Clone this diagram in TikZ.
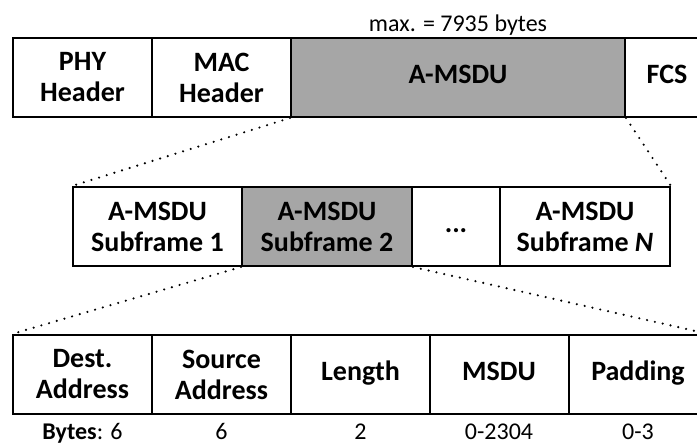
\documentclass[tikz,border=0pt]{standalone}
\usepackage{fontspec}
\setmainfont{Carlito}
\usepackage{tikz}
\definecolor{grisclair}{RGB}{166,166,166}

\begin{document}
\begin{tikzpicture}[x=1pt, y=1pt]
			\tikzset{case/.style={rectangle, draw=black, line width=2pt, minimum height=79pt, inner sep=0pt, align=center, font=\fontsize{28}{31}\selectfont\bfseries},
				ligne/.style={text height=20pt, text depth=7pt},
				grise/.style={fill=grisclair},
				pointille/.style={line width=2.4pt, line cap=round, dash pattern=on 0pt off 8pt},
				texte/.style={inner sep=0pt, anchor=base, font=\fontsize{24}{28}\selectfont}};

			\useasboundingbox (0,0) rectangle (697,445);

			\node[case, minimum width=139pt]               (phy)   at ( 82.5, 367.5) {PHY\\Header};
			\node[case, minimum width=139pt]               (mac)   at (221.5, 367.5) {MAC\\Header};
			\node[case, ligne, grise, minimum width=334pt] (amsdu) at (  458, 367.5) {A-MSDU};
			\node[case, ligne, minimum width=84pt]         (fcs)   at (  667, 367.5) {FCS};

			\node[case, minimum width=169pt]               (sub1)  at (157.5, 218.5) {A-MSDU\\Subframe 1};
			\node[case, grise, minimum width=170pt]        (sub2)  at (  327, 218.5) {A-MSDU\\Subframe 2};
			\node[case, ligne, minimum width=88pt]         (etc)   at (  456, 218.5) {...};
			\node[case, minimum width=170pt]               (subn)  at (  585, 218.5) {A-MSDU\\Subframe \textit{N}};

			\node[case, minimum width=139pt]               (dest)  at ( 82.5,  70.5) {Dest.\\Address};
			\node[case, minimum width=139pt]               (src)   at (221.5,  70.5) {Source\\Address};
			\node[case, ligne, minimum width=139pt]        (len)   at (360.5,  70.5) {Length};
			\node[case, ligne, minimum width=139pt]        (msdu)  at (  499,  70.5) {MSDU};
			\node[case, ligne, minimum width=139pt]        (pad)   at (  638,  70.5) {Padding};

			\node[texte] (max)  at (  458, 413) {max. = 7935 bytes};

			\node[texte] (o1) at ( 82.5, 5.5) {\textbf{Bytes}: 6};
			\node[texte] (o2) at (221.5, 5.5) {6};
			\node[texte] (o3) at (360.5, 5.5) {2};
			\node[texte] (o4) at (  499, 5.5) {0-2304};
			\node[texte] (o5) at (  638, 5.5) {0-3};

			\draw[pointille] (amsdu.south west) -- (sub1.north west);
			\draw[pointille] (amsdu.south east) -- (subn.north east);
			\draw[pointille] (sub2.south west)  -- (dest.north west);
			\draw[pointille] (sub2.south east)  -- (pad.north east);

		\end{tikzpicture}
\end{document}
